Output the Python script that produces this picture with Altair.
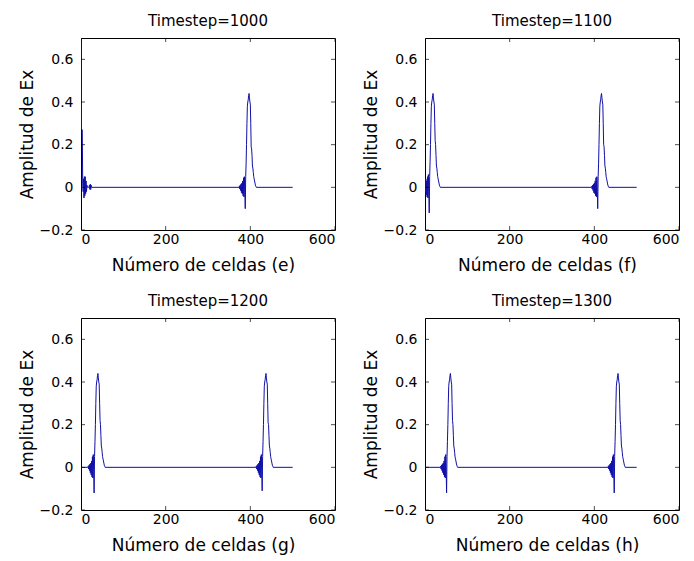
import altair as alt
import pandas as pd

TIMESTEPS = [1000, 1100, 1200, 1300]
LETTERS = ["e", "f", "g", "h"]
X_TICKS = [0, 200, 400, 600]
Y_TICKS = [-0.2, 0, 0.2, 0.4, 0.6]
LAST_CELL = 500

# Each pulse: first cell index and the values read cell by cell
E_LEFT_START = 0
E_LEFT = [0.9, 0.27, 0.27, 0.27, 0.02, -0.02, 0.04, -0.05, 0.05, -0.04, 0.05,
          -0.03, 0.03, -0.02, 0.01, 0.0, 0.0, 0.0, 0.0, 0.0, 0.01, -0.01, 0.015,
          -0.01, 0.01, 0.0]
E_RIGHT_START = 373
E_RIGHT = [0.0, 0.005, -0.008, 0.01, -0.015, 0.015, -0.025, 0.02, -0.03, 0.03,
           -0.04, 0.045, -0.045, 0.05, -0.02, -0.10, 0.05, 0.11, 0.2, 0.3, 0.38,
           0.40, 0.41, 0.43, 0.44, 0.42, 0.40, 0.39, 0.30, 0.19, 0.18, 0.15, 0.10,
           0.09, 0.07, 0.05, 0.04, 0.03, 0.02, 0.01, 0.005, 0.0]
F_LEFT_START = 0
F_LEFT = [0.03, -0.025, 0.04, -0.035, 0.03, -0.045, 0.05, -0.05, 0.06, -0.02,
          -0.12, 0.05, 0.12, 0.2, 0.3, 0.38, 0.40, 0.41, 0.43, 0.44, 0.42, 0.40,
          0.39, 0.30, 0.22, 0.20, 0.15, 0.10, 0.09, 0.07, 0.05, 0.04, 0.03, 0.02,
          0.01, 0.005, 0.0]
F_RIGHT_START = 393
F_RIGHT = [0.0, 0.005, -0.008, 0.01, -0.015, 0.015, -0.025, 0.02, -0.03, 0.03,
           -0.04, 0.045, -0.045, 0.05, -0.02, -0.10, 0.05, 0.11, 0.2, 0.3, 0.38,
           0.40, 0.41, 0.43, 0.44, 0.42, 0.40, 0.39, 0.30, 0.20, 0.19, 0.15, 0.10,
           0.09, 0.07, 0.05, 0.04, 0.03, 0.02, 0.01, 0.005, 0.0]
G_LEFT_START = 16
G_LEFT = [0.0, 0.005, -0.008, 0.01, -0.015, 0.015, -0.025, 0.02, -0.035, 0.03,
          -0.045, 0.05, -0.05, 0.06, -0.02, -0.12, 0.05, 0.12, 0.2, 0.3, 0.38,
          0.40, 0.41, 0.43, 0.44, 0.42, 0.40, 0.39, 0.30, 0.22, 0.20, 0.15, 0.10,
          0.09, 0.07, 0.05, 0.04, 0.03, 0.02, 0.01, 0.005, 0.0]
G_RIGHT_START = 413
G_RIGHT = [0.0, 0.005, -0.008, 0.01, -0.015, 0.015, -0.025, 0.02, -0.035, 0.03,
           -0.045, 0.05, -0.05, 0.06, -0.02, -0.11, 0.05, 0.12, 0.2, 0.3, 0.38,
           0.40, 0.41, 0.43, 0.44, 0.42, 0.40, 0.39, 0.30, 0.21, 0.20, 0.15, 0.10,
           0.09, 0.07, 0.05, 0.04, 0.03, 0.02, 0.01, 0.005, 0.0]
H_LEFT_START = 36
H_LEFT = [0.0, 0.005, -0.008, 0.01, -0.015, 0.015, -0.025, 0.02, -0.035, 0.03,
          -0.045, 0.05, -0.05, 0.06, -0.02, -0.12, 0.05, 0.12, 0.2, 0.3, 0.38,
          0.40, 0.41, 0.43, 0.44, 0.42, 0.40, 0.39, 0.30, 0.22, 0.20, 0.15, 0.10,
          0.09, 0.07, 0.05, 0.04, 0.03, 0.02, 0.01, 0.005, 0.0]
H_RIGHT_START = 432
H_RIGHT = [0.0, 0.005, -0.008, 0.01, -0.015, 0.015, -0.025, 0.02, -0.035, 0.03,
           -0.045, 0.05, -0.05, 0.06, -0.02, -0.12, 0.05, 0.12, 0.2, 0.3, 0.38,
           0.40, 0.41, 0.43, 0.44, 0.42, 0.40, 0.39, 0.30, 0.22, 0.20, 0.15, 0.10,
           0.09, 0.07, 0.05, 0.04, 0.03, 0.02, 0.01, 0.005, 0.0]

PULSES = [
    [(E_LEFT_START, E_LEFT), (E_RIGHT_START, E_RIGHT)],
    [(F_LEFT_START, F_LEFT), (F_RIGHT_START, F_RIGHT)],
    [(G_LEFT_START, G_LEFT), (G_RIGHT_START, G_RIGHT)],
    [(H_LEFT_START, H_LEFT), (H_RIGHT_START, H_RIGHT)],
]

W, H = 254, 192
FONT = "DejaVu Sans"
LINE_COLOR = "#1010a8"


def panel_frame(pulses):
    rows = []
    if pulses[0][0] > 0:
        rows.append((0, 0.0))
    for start, vals in pulses:
        for i, v in enumerate(vals):
            rows.append((start + i, v))
    rows.append((LAST_CELL, 0.0))
    return pd.DataFrame(rows, columns=["cell", "ex"])


xscale = alt.Scale(domain=[0, 600], nice=False, zero=False)
yscale = alt.Scale(domain=[-0.2, 0.7], nice=False, zero=False)

ticks_x = pd.DataFrame({"tx": X_TICKS})
ticks_y = pd.DataFrame({"ty": Y_TICKS})

panels = []
for ts, letter, pulses in zip(TIMESTEPS, LETTERS, PULSES):
    df = panel_frame(pulses)
    xaxis = alt.Axis(values=X_TICKS, title=f"Número de celdas ({letter})", format="d",
                     titleX=W / 2 - 5)
    yaxis = alt.Axis(values=Y_TICKS, title="Amplitud de Ex", format="~g")
    line = alt.Chart(df).mark_line(color=LINE_COLOR, strokeWidth=1, clip=True).encode(
        x=alt.X("cell:Q", scale=xscale, axis=xaxis),
        y=alt.Y("ex:Q", scale=yscale, axis=yaxis),
    )
    yt_left = alt.Chart(ticks_y).mark_tick(orient="horizontal", size=8, thickness=1,
                                           color="black", clip=True).encode(
        y=alt.Y("ty:Q", scale=yscale, axis=yaxis), x=alt.value(0))
    yt_right = alt.Chart(ticks_y).mark_tick(orient="horizontal", size=8, thickness=1,
                                            color="black", clip=True).encode(
        y=alt.Y("ty:Q", scale=yscale, axis=yaxis), x=alt.value(W))
    xt_bottom = alt.Chart(ticks_x).mark_tick(orient="vertical", size=8, thickness=1,
                                             color="black", clip=True).encode(
        x=alt.X("tx:Q", scale=xscale, axis=xaxis), y=alt.value(H))
    xt_top = alt.Chart(ticks_x).mark_tick(orient="vertical", size=8, thickness=1,
                                          color="black", clip=True).encode(
        x=alt.X("tx:Q", scale=xscale, axis=xaxis), y=alt.value(0))
    p = alt.layer(line, yt_left, yt_right, xt_bottom, xt_top).properties(
        width=W, height=H,
        title=alt.TitleParams(f"Timestep={ts}", fontSize=15, font=FONT,
                              fontWeight="normal", offset=9, color="black"),
    )
    panels.append(p)

chart = alt.concat(*panels, columns=2, spacing={"row": 88, "column": 90},
                   bounds="flush").properties(
    padding={"left": 9, "top": 5, "right": 5, "bottom": 5}
).configure_view(stroke="black", strokeWidth=1).configure_axis(
    grid=False, domain=False, ticks=False, tickSize=0,
    labelFont=FONT, labelFontSize=14, labelColor="black",
    titleFont=FONT, titleFontSize=17, titleFontWeight="normal", titleColor="black",
).configure_axisX(labelPadding=2, titlePadding=11).configure_axisY(
    labelPadding=8, titlePadding=3
)

chart.save("out.html", embed_options={"renderer": "svg", "actions": False})
